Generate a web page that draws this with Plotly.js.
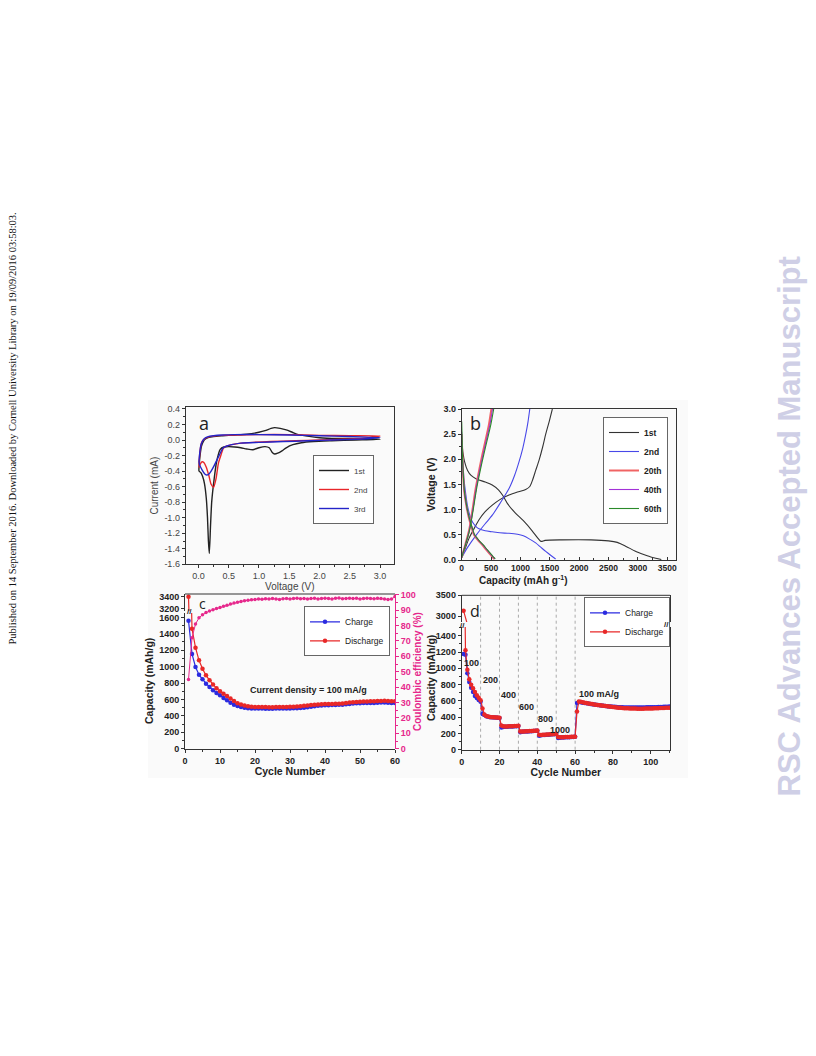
<!DOCTYPE html>
<html><head><meta charset="utf-8">
<script src="https://cdn.plot.ly/plotly-3.0.1.min.js"></script>
<style>html,body{margin:0;padding:0;background:#fff}#chart{width:816px;height:1056px}</style>
</head><body><div id="chart"></div>
<script>
// ---------- Panel a: cyclic voltammetry ----------
const cvLabels = ['1st','2nd','3rd'];
const cv1V = [3.0,2.6,2.2,1.9,1.7,1.56,1.45,1.38,1.31,1.26,1.22,1.17,1.1,1.0,0.9,0.8,0.7,0.6,0.5,0.42,0.36,0.3,0.26,0.22,0.2,0.18,0.165,0.15,0.13,0.1,0.07,0.04,0.01,0.015,0.03,0.05,0.08,0.11,0.16,0.25,0.4,0.6,0.8,1.0,1.1,1.2,1.26,1.35,1.45,1.55,1.65,1.8,2.0,2.3,2.6,3.0];
const cv1I = [0.01,0.0,-0.01,-0.02,-0.035,-0.06,-0.1,-0.14,-0.17,-0.18,-0.16,-0.1,-0.085,-0.1,-0.125,-0.115,-0.1,-0.09,-0.085,-0.09,-0.12,-0.28,-0.5,-0.79,-1.1,-1.46,-1.3,-1.0,-0.75,-0.56,-0.47,-0.42,-0.4,-0.3,-0.18,-0.08,-0.02,0.01,0.03,0.045,0.055,0.065,0.075,0.1,0.12,0.15,0.16,0.15,0.13,0.1,0.07,0.05,0.03,0.02,0.02,0.01];
const cv2V = [3.0,2.7,2.4,2.0,1.6,1.2,0.9,0.7,0.55,0.46,0.41,0.37,0.33,0.29,0.25,0.21,0.17,0.13,0.09,0.06,0.03,0.01,0.015,0.03,0.05,0.08,0.12,0.18,0.25,0.4,0.6,1.0,1.5,2.0,2.5,3.0];
const cv2I = [0.05,0.02,0.01,0.0,-0.01,-0.02,-0.03,-0.04,-0.06,-0.08,-0.11,-0.2,-0.3,-0.5,-0.61,-0.57,-0.45,-0.35,-0.29,-0.28,-0.31,-0.35,-0.25,-0.12,-0.04,0.0,0.025,0.04,0.05,0.06,0.065,0.07,0.07,0.06,0.055,0.05];
const cv3V = [3.0,2.6,2.2,1.8,1.4,1.0,0.7,0.55,0.46,0.41,0.36,0.31,0.26,0.21,0.17,0.14,0.11,0.08,0.05,0.02,0.01,0.02,0.04,0.07,0.1,0.15,0.25,0.4,0.6,1.0,1.5,2.0,2.5,3.0];
const cv3I = [0.03,0.01,0.0,-0.01,-0.02,-0.03,-0.04,-0.06,-0.08,-0.1,-0.17,-0.25,-0.33,-0.4,-0.44,-0.45,-0.44,-0.41,-0.37,-0.32,-0.28,-0.18,-0.07,-0.01,0.02,0.04,0.055,0.065,0.07,0.07,0.065,0.055,0.045,0.03];
const aXTicks = [0,0.5,1.0,1.5,2.0,2.5,3.0];
const aXTickText = ['0.0','0.5','1.0','1.5','2.0','2.5','3.0'];
const aYTicks = [-1.6,-1.4,-1.2,-1.0,-0.8,-0.6,-0.4,-0.2,0.0,0.2,0.4];
const aYTickText = ['-1.6','-1.4','-1.2','-1.0','-0.8','-0.6','-0.4','-0.2','0.0','0.2','0.4'];

// ---------- Panel b: charge/discharge profiles ----------
const gcdLabels = ['1st','2nd','20th','40th','60th'];
const d1Cap = [0,20,50,100,160,250,400,520,630,700,780,900,1050,1200,1300,1350,1420,1700,2200,2500,2650,2800,2950,3100,3250,3400];
const d1V   = [2.4,2.15,1.95,1.78,1.68,1.61,1.55,1.49,1.39,1.28,1.12,0.95,0.78,0.58,0.43,0.37,0.39,0.4,0.4,0.38,0.35,0.27,0.18,0.11,0.05,0.01];
const c1Cap = [0,50,124,200,295,400,521,650,806,950,1090,1160,1210,1260,1317,1380,1431,1490,1544];
const c1V   = [0.05,0.2,0.43,0.6,0.8,0.96,1.09,1.2,1.29,1.35,1.4,1.46,1.6,1.78,1.98,2.25,2.5,2.75,3.0];
const d2Cap = [0,15,40,70,96,140,181,240,295,400,521,650,806,950,1050,1150,1260,1350,1431,1520,1600];
const d2V   = [2.5,2.0,1.6,1.3,1.09,0.88,0.76,0.67,0.62,0.58,0.56,0.54,0.53,0.51,0.48,0.42,0.34,0.25,0.17,0.09,0.02];
const c2Cap = [0,100,250,400,521,650,806,900,976,1040,1090,1130,1160];
const c2V   = [0.05,0.25,0.5,0.72,0.89,1.12,1.42,1.68,1.95,2.22,2.49,2.75,3.0];
const d20Cap = [0,10,25,45,68,95,124,165,210,280,351,420,494,530,555];
const d20V   = [2.5,2.1,1.7,1.35,1.16,0.98,0.83,0.66,0.5,0.39,0.3,0.2,0.1,0.05,0.02];
const c20Cap = [0,60,124,180,238,300,351,410,465,505];
const c20V   = [0.05,0.3,0.58,0.97,1.42,1.8,2.09,2.4,2.7,3.0];
const d40Cap = [0,10,26,46,70,98,128,170,216,288,360,430,505,540,565];
const d40V   = [2.55,2.1,1.7,1.35,1.16,0.98,0.83,0.66,0.5,0.39,0.3,0.2,0.1,0.05,0.02];
const c40Cap = [0,62,128,186,246,310,363,424,482,525];
const c40V   = [0.05,0.3,0.58,0.97,1.42,1.8,2.09,2.4,2.7,3.0];
const d60Cap = [0,8,12,27,48,72,100,131,174,220,294,367,438,512,548,572];
const d60V   = [2.75,2.4,2.1,1.7,1.35,1.16,0.98,0.83,0.66,0.5,0.39,0.3,0.2,0.1,0.05,0.02];
const c60Cap = [0,64,132,192,254,320,375,438,498,545];
const c60V   = [0.05,0.3,0.58,0.97,1.42,1.8,2.09,2.4,2.7,3.0];

// ---------- Panel c: cycling at 100 mA/g ----------
const cChargeLabel = 'Charge', cDischargeLabel = 'Discharge';
const cCharge = [1560,1155,995,902,845,792,752,711,678,650,618,590,561,536,520,508,498,494,491,490,489,489,488,488,488,489,489,490,490,491,492,494,497,500,505,512,518,523,526,528,530,531,532,534,536,540,545,550,553,555,556,557,557,558,560,562,563,561,558,556];
const cDischarge = [3400,1462,1230,1077,975,894,835,782,735,700,670,642,610,580,555,537,525,517,512,509,508,507,507,506,506,507,507,508,509,510,512,515,518,522,527,532,536,539,541,543,545,546,547,549,552,557,562,567,570,572,574,576,577,578,580,582,583,582,579,577];
const cCE = [45,72,81,85,87,88.5,89.5,90.3,91,91.8,92.5,93.2,94,94.6,95.2,95.7,96.1,96.5,96.8,97,97.2,97.1,97.4,97.2,97.5,97.3,96.9,97.4,97.6,97.3,97.5,97.8,97.4,97.6,97.2,97.5,97.7,97.3,97.6,97.8,97.5,97.3,97.7,97.9,97.4,97.6,97.8,97.5,97.7,97.3,97.6,97.8,97.5,97.4,97.7,97.6,97.3,96.9,97.2,98.8];
const cNote = 'Current density = 100 mA/g';

// ---------- Panel d: rate capability ----------
const dCharge = [1175,1165,940,830,760,710,660,635,610,590,
  440,425,412,405,400,398,396,394,392,390,
  272,280,282,283,284,285,286,287,288,290,
  215,220,222,224,225,226,228,230,232,234,
  172,178,180,182,184,185,187,189,191,193,
  143,148,150,151,152,153,154,155,156,158,
  575,585,582,578,574,570,566,562,558,555,
  552,549,546,543,540,537,535,532,530,528,
  526,524,522,521,520,519,518,518,517,517,
  517,517,517,518,518,519,519,520,520,521,
  521,522,522,523,524,525,526,527,528,530];
const dDischarge = [3130,1220,982,866,798,755,710,670,638,608,
  505,432,415,408,403,400,398,396,394,392,
  298,287,286,286,287,288,289,290,291,293,
  225,224,225,226,227,229,230,232,234,236,
  183,182,183,184,186,187,189,191,193,195,
  155,152,153,154,155,156,157,158,159,160,
  470,592,588,583,578,573,568,564,560,556,
  552,548,545,542,539,536,533,530,527,524,
  521,518,516,514,512,510,509,508,507,506,
  505,505,504,504,504,504,505,505,506,506,
  507,508,509,510,511,512,513,514,515,516];
const rateBoundaries = [10,20,30,40,50,60];
const rateLabels = ['100','200','400','600','800','1000','100 mA/g'];
const rateLabelX = [5.2,15.3,25,34.4,44.4,52.2,72.5];
const rateLabelY = [1065,853,676,521,377,246,684];

// ---------- helpers ----------
const W = 816, H = 1056;
const fx = p => p / W;
const fy = p => 1 - p / H;
const cyclesC = cCharge.map((_, i) => i + 1);
const cyclesD = dCharge.map((_, i) => i + 1);
const join = (a, b) => a.concat([null], b);

const BLUE = '#2b2be0', RED = '#e82828', MAG = '#e6288c', INK = '#222';
const FONT = 'Liberation Sans, Arial, sans-serif';
const boldTick = {family: FONT, size: 9, color: INK, weight: 'bold'};
const boldTitle = {family: FONT, size: 10.5, color: INK, weight: 'bold'};

const traces = [];
// panel a
const cvX = [cv1V, cv2V, cv3V], cvY = [cv1I, cv2I, cv3I], cvC = ['#222222', '#e8262a', '#2424c8'];
cvLabels.forEach((n, i) => traces.push({x: cvX[i], y: cvY[i], xaxis: 'x', yaxis: 'y', name: n, mode: 'lines',
  line: {color: cvC[i], width: 1.4, shape: 'spline', smoothing: 0.6}, legend: 'legend'}));
// panel b
const gX = [join(d1Cap, c1Cap), join(d2Cap, c2Cap), join(d20Cap, c20Cap), join(d40Cap, c40Cap), join(d60Cap, c60Cap)];
const gY = [join(d1V, c1V), join(d2V, c2V), join(d20V, c20V), join(d40V, c40V), join(d60V, c60V)];
const gC = ['#333333', '#4848e8', '#f06464', '#a232d8', '#2a8a2a'];
const gWd = [1.1, 1.1, 2.0, 1.1, 1.1];
gcdLabels.forEach((n, i) => traces.push({x: gX[i], y: gY[i], xaxis: 'x2', yaxis: 'y2', name: n, mode: 'lines',
  line: {color: gC[i], width: gWd[i], shape: 'spline', smoothing: 0.7}, legend: 'legend2'}));
// panel c
traces.push({x: cyclesC, y: cCE, xaxis: 'x3', yaxis: 'y5', mode: 'lines+markers', showlegend: false,
  line: {color: MAG, width: 1}, marker: {color: MAG, size: 3.5}});
traces.push({x: cyclesC, y: cCharge, xaxis: 'x3', yaxis: 'y3', name: cChargeLabel, mode: 'lines+markers',
  line: {color: BLUE, width: 1.2}, marker: {color: BLUE, size: 4.5}, legend: 'legend3'});
traces.push({x: cyclesC, y: cDischarge, xaxis: 'x3', yaxis: 'y3', name: cDischargeLabel, mode: 'lines+markers',
  line: {color: RED, width: 1.2}, marker: {color: RED, size: 4.5}, legend: 'legend3'});
traces.push({x: cyclesC, y: cDischarge, xaxis: 'x3', yaxis: 'y4', showlegend: false, mode: 'lines+markers',
  line: {color: RED, width: 1.2}, marker: {color: RED, size: 4.5}});
// panel d
traces.push({x: cyclesD, y: dCharge, xaxis: 'x4', yaxis: 'y6', name: cChargeLabel, mode: 'lines+markers',
  line: {color: BLUE, width: 1.2}, marker: {color: BLUE, size: 4.5}, legend: 'legend4'});
traces.push({x: cyclesD, y: dDischarge, xaxis: 'x4', yaxis: 'y6', name: cDischargeLabel, mode: 'lines+markers',
  line: {color: RED, width: 1.2}, marker: {color: RED, size: 4.5}, legend: 'legend4'});
traces.push({x: cyclesD, y: dDischarge, xaxis: 'x4', yaxis: 'y7', showlegend: false, mode: 'lines+markers',
  line: {color: RED, width: 1.2}, marker: {color: RED, size: 4.5}});

const base = {showgrid: false, zeroline: false, showline: true, linecolor: '#333', linewidth: 1,
  ticks: 'outside', ticklen: 3, tickwidth: 1, tickcolor: '#333', fixedrange: true};
const regTick = {family: FONT, size: 9, color: '#444'};

const layout = {
  width: W, height: H, margin: {l: 0, r: 0, t: 0, b: 0},
  paper_bgcolor: '#ffffff', plot_bgcolor: 'rgba(0,0,0,0)', showlegend: true,
  // panel a
  xaxis: Object.assign({}, base, {domain: [fx(185.7), fx(394)], anchor: 'y', range: [-0.21, 3.23], mirror: true,
    tickvals: aXTicks, ticktext: aXTickText, tickfont: regTick, minor: {ticks: 'outside', ticklen: 2, dtick: 0.25, tickcolor: '#333'},
    title: {text: 'Voltage (V)', font: {family: FONT, size: 10, color: '#444'}, standoff: 1}}),
  yaxis: Object.assign({}, base, {domain: [fy(564.3), fy(407)], anchor: 'x', range: [-1.6, 0.425], mirror: true,
    tickvals: aYTicks, ticktext: aYTickText, tickfont: regTick, minor: {ticks: 'outside', ticklen: 2, dtick: 0.1, tickcolor: '#333'},
    title: {text: 'Current (mA)', font: {family: FONT, size: 10, color: '#444'}, standoff: 3}}),
  // panel b
  xaxis2: Object.assign({}, base, {domain: [fx(461.7), fx(675.7)], anchor: 'y2', range: [0, 3645], mirror: true,
    ticks: 'inside', ticklen: 3, tickvals: [0,500,1000,1500,2000,2500,3000,3500],
    tickfont: {family: FONT, size: 8.5, color: INK, weight: 'bold'},
    minor: {ticks: 'inside', ticklen: 2, dtick: 250, tickcolor: '#333'}}),
  yaxis2: Object.assign({}, base, {domain: [fy(560), fy(409)], anchor: 'x2', range: [0, 3.0], mirror: true,
    tickvals: [0,0.5,1,1.5,2,2.5,3], ticktext: ['0.0','0.5','1.0','1.5','2.0','2.5','3.0'], tickfont: boldTick,
    minor: {ticks: 'outside', ticklen: 2, dtick: 0.25, tickcolor: '#333'},
    title: {text: 'Voltage (V)', font: boldTitle, standoff: 5}}),
  // panel c
  xaxis3: Object.assign({}, base, {domain: [fx(185), fx(395)], anchor: 'y3', range: [0, 60],
    tickvals: [0,10,20,30,40,50,60], tickfont: boldTick, minor: {ticks: 'outside', ticklen: 2, dtick: 5, tickcolor: '#333'},
    title: {text: 'Cycle Number', font: boldTitle, standoff: 0}}),
  yaxis3: Object.assign({}, base, {domain: [fy(748.7), fy(613)], anchor: 'x3', range: [0, 1653],
    tickvals: [0,200,400,600,800,1000,1200,1400,1600], tickfont: boldTick,
    minor: {ticks: 'outside', ticklen: 2, dtick: 100, tickcolor: '#333'},
    title: {text: 'Capacity (mAh/g)', font: boldTitle, standoff: 3}}),
  yaxis4: Object.assign({}, base, {domain: [fy(611), fy(594)], anchor: 'x3', range: [3162, 3445],
    tickvals: [3200, 3400], tickfont: boldTick}),
  yaxis5: Object.assign({}, base, {domain: [fy(748.7), fy(594)], anchor: 'x3', side: 'right', range: [0, 100.5],
    linecolor: MAG, tickcolor: MAG, tickvals: [0,10,20,30,40,50,60,70,80,90,100],
    tickfont: {family: FONT, size: 9, color: MAG, weight: 'bold'},
    minor: {ticks: 'outside', ticklen: 2, dtick: 5, tickcolor: MAG}}),
  // panel d
  xaxis4: Object.assign({}, base, {domain: [fx(461.7), fx(670)], anchor: 'y6', range: [0, 110.2],
    tickvals: [0,20,40,60,80,100], tickfont: boldTick, minor: {ticks: 'outside', ticklen: 2, dtick: 10, tickcolor: '#333'},
    title: {text: 'Cycle Number', font: boldTitle, standoff: 0}}),
  yaxis6: Object.assign({}, base, {domain: [fy(749.7), fy(627)], anchor: 'x4', range: [0, 1507], mirror: true,
    tickvals: [0,200,400,600,800,1000,1200,1400], tickfont: boldTick,
    minor: {ticks: 'outside', ticklen: 2, dtick: 100, tickcolor: '#333'}}),
  yaxis7: Object.assign({}, base, {domain: [fy(622), fy(595.3)], anchor: 'x4', range: [2864, 3500], mirror: true,
    tickvals: [3000, 3500], tickfont: boldTick}),
  legend: {x: fx(313), y: fy(455), xanchor: 'left', yanchor: 'top', bgcolor: '#fff', bordercolor: '#666', borderwidth: 1,
    font: {family: FONT, size: 8, color: '#444'}, itemwidth: 30, tracegroupgap: 0},
  legend2: {x: fx(603), y: fy(417), xanchor: 'left', yanchor: 'top', bgcolor: '#fff', bordercolor: '#666', borderwidth: 1,
    font: {family: FONT, size: 8.5, color: INK, weight: 'bold'}, itemwidth: 30, tracegroupgap: 0},
  legend3: {x: fx(304), y: fy(606.3), xanchor: 'left', yanchor: 'top', bgcolor: '#fff', bordercolor: '#666', borderwidth: 1,
    font: {family: FONT, size: 8.5, color: INK}, itemwidth: 30, tracegroupgap: 0},
  legend4: {x: fx(584), y: fy(597.3), xanchor: 'left', yanchor: 'top', bgcolor: 'rgba(255,255,255,0.9)', bordercolor: '#666', borderwidth: 1,
    font: {family: FONT, size: 8.5, color: INK}, itemwidth: 30, tracegroupgap: 0},
  shapes: [
    {type: 'rect', xref: 'paper', yref: 'paper', x0: fx(148), x1: fx(688), y0: fy(778), y1: fy(400),
      fillcolor: '#fafafa', line: {width: 0}, layer: 'below'},
    {type: 'line', xref: 'x3 domain', yref: 'y4 domain', x0: 0, x1: 1, y0: 1, y1: 1, line: {color: '#333', width: 1}},
    {type: 'line', xref: 'x4 domain', yref: 'y7 domain', x0: 0, x1: 1, y0: 1, y1: 1, line: {color: '#333', width: 1}}
  ].concat(rateBoundaries.map(b => ({type: 'line', xref: 'x4', yref: 'paper', x0: b, x1: b, y0: fy(749.7), y1: fy(595.3),
    line: {color: '#aaa', width: 1, dash: 'dot'}, layer: 'below'}))),
  annotations: [
    {text: 'a', xref: 'paper', yref: 'paper', x: fx(197), y: fy(422.7), showarrow: false, font: {family: 'Open Sans, sans-serif', size: 18, color: INK}},
    {text: 'b', xref: 'paper', yref: 'paper', x: fx(475.5), y: fy(423.3), showarrow: false, font: {family: 'Open Sans, sans-serif', size: 18, color: INK}},
    {text: 'c', xref: 'paper', yref: 'paper', x: fx(196.5), y: fy(603), showarrow: false, font: {family: 'Open Sans, sans-serif', size: 14, color: INK}},
    {text: 'd', xref: 'paper', yref: 'paper', x: fx(475), y: fy(610.7), showarrow: false, font: {family: 'Open Sans, sans-serif', size: 16, color: INK}},
    {text: 'Capacity (mAh g<sup>-1</sup>)', xref: 'paper', yref: 'paper', x: fx(568.7), y: fy(580), showarrow: false,
      font: {family: FONT, size: 10, color: INK, weight: 'bold'}},
    {text: 'Coulombic efficiency (%)', xref: 'paper', yref: 'paper', x: fx(417), y: fy(671), textangle: -90, showarrow: false,
      font: {family: FONT, size: 10, color: MAG, weight: 'bold'}},
    {text: 'Capacity (mAh/g)', xref: 'paper', yref: 'paper', x: fx(431), y: fy(678), textangle: -90, showarrow: false, font: boldTitle},
    {text: cNote, xref: 'x3', yref: 'y3', x: 35.2, y: 719, showarrow: false, font: boldTick},
    {text: '//', xref: 'paper', yref: 'paper', x: fx(185), y: fy(611), showarrow: false, font: {family: FONT, size: 8, color: INK, weight: 'bold'}},
    {text: '//', xref: 'paper', yref: 'paper', x: fx(462), y: fy(625), showarrow: false, font: {family: FONT, size: 8, color: INK, weight: 'bold'}},
    {text: '//', xref: 'paper', yref: 'paper', x: fx(670.5), y: fy(624.5), showarrow: false, font: {family: FONT, size: 8, color: INK, weight: 'bold'}},
    {text: 'Published on 14 September 2016. Downloaded by Cornell University Library on 19/09/2016 03:58:03.',
      xref: 'paper', yref: 'paper', x: fx(4), y: fy(429), textangle: -90, showarrow: false,
      font: {family: 'Liberation Serif, Times New Roman, serif', size: 10.5, color: '#111'}},
    {text: 'RSC Advances Accepted Manuscript', xref: 'paper', yref: 'paper', x: fx(808), y: fy(527), textangle: -90, showarrow: false,
      font: {family: FONT, size: 31, color: '#cfcfe6', weight: 'bold'}}
  ].concat(rateLabels.map((t, i) => ({text: t, xref: 'x4', yref: 'y6', x: rateLabelX[i], y: rateLabelY[i], showarrow: false,
    font: boldTick})))
};

Plotly.newPlot('chart', traces, layout, {staticPlot: true, displayModeBar: false});
</script></body></html>
